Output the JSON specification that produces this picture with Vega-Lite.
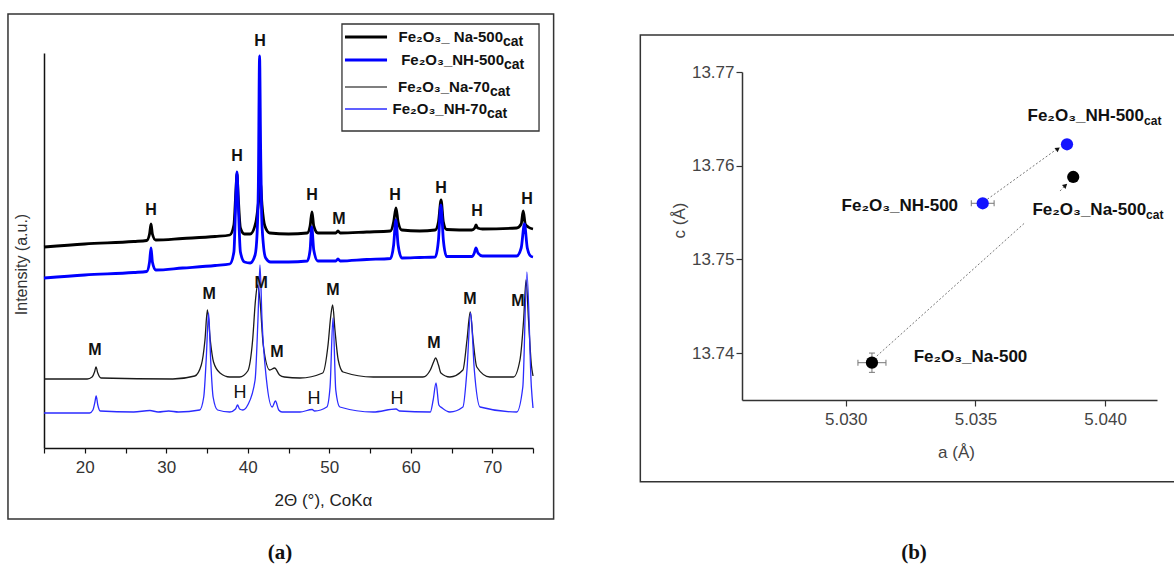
{
  "$schema": "https://vega.github.io/schema/vega-lite/v6.json",
  "width": 1174,
  "height": 565,
  "autosize": "none",
  "padding": 0,
  "background": "white",
  "config": {
    "view": {"stroke": null},
    "text": {"font": "Liberation Sans, DejaVu Sans, sans-serif"},
    "axis": {"labelFont": "Liberation Sans, DejaVu Sans, sans-serif", "titleFont": "Liberation Sans, DejaVu Sans, sans-serif", "grid": false}
  },
  "datasets": {
    "xrd": [
      {"s":"A","t":15.0,"I":201},{"s":"A","t":20.0,"I":204},{"s":"A","t":26.0,"I":206.5},{"s":"A","t":27.6,"I":207.5},{"s":"A","t":27.95,"I":214},{"s":"A","t":28.13,"I":224},{"s":"A","t":28.3,"I":214},{"s":"A","t":28.7,"I":208},{"s":"A","t":32.0,"I":209.5},{"s":"A","t":36.0,"I":211.5},{"s":"A","t":37.8,"I":213},{"s":"A","t":38.3,"I":223},{"s":"A","t":38.55,"I":258},{"s":"A","t":38.68,"I":274},{"s":"A","t":38.82,"I":253},{"s":"A","t":39.1,"I":220},{"s":"A","t":39.6,"I":214},{"s":"A","t":40.3,"I":214},{"s":"A","t":41.0,"I":226},{"s":"A","t":41.35,"I":248},{"s":"A","t":41.55,"I":265},{"s":"A","t":41.75,"I":243},{"s":"A","t":42.1,"I":222},{"s":"A","t":42.7,"I":215},{"s":"A","t":45.0,"I":214},{"s":"A","t":47.3,"I":215},{"s":"A","t":47.65,"I":222},{"s":"A","t":47.88,"I":236},{"s":"A","t":48.1,"I":222},{"s":"A","t":48.6,"I":215},{"s":"A","t":50.8,"I":215},{"s":"A","t":51.07,"I":217},{"s":"A","t":51.35,"I":215},{"s":"A","t":54.6,"I":216},{"s":"A","t":57.5,"I":217},{"s":"A","t":57.9,"I":226},{"s":"A","t":58.19,"I":240},{"s":"A","t":58.45,"I":226},{"s":"A","t":58.9,"I":218},{"s":"A","t":61.1,"I":217},{"s":"A","t":63.0,"I":218},{"s":"A","t":63.4,"I":226},{"s":"A","t":63.72,"I":248},{"s":"A","t":64.0,"I":226},{"s":"A","t":64.4,"I":218.5},{"s":"A","t":67.5,"I":218},{"s":"A","t":67.85,"I":220},{"s":"A","t":68.0,"I":223},{"s":"A","t":68.2,"I":220},{"s":"A","t":68.8,"I":219},{"s":"A","t":73.0,"I":220},{"s":"A","t":73.55,"I":224},{"s":"A","t":73.8,"I":237},{"s":"A","t":74.05,"I":224},{"s":"A","t":74.4,"I":221},{"s":"A","t":75.0,"I":219},
      {"s":"B","t":15.0,"I":170},{"s":"B","t":20.0,"I":173},{"s":"B","t":26.0,"I":175.5},{"s":"B","t":27.6,"I":176.5},{"s":"B","t":27.95,"I":186},{"s":"B","t":28.13,"I":200},{"s":"B","t":28.3,"I":186},{"s":"B","t":28.7,"I":178},{"s":"B","t":32.0,"I":180},{"s":"B","t":36.0,"I":182.5},{"s":"B","t":37.8,"I":184},{"s":"B","t":38.3,"I":196},{"s":"B","t":38.55,"I":253},{"s":"B","t":38.68,"I":276},{"s":"B","t":38.82,"I":248},{"s":"B","t":39.1,"I":196},{"s":"B","t":39.6,"I":186},{"s":"B","t":40.3,"I":185},{"s":"B","t":40.9,"I":193},{"s":"B","t":41.15,"I":215},{"s":"B","t":41.3,"I":262},{"s":"B","t":41.45,"I":392},{"s":"B","t":41.58,"I":300},{"s":"B","t":41.7,"I":235},{"s":"B","t":41.9,"I":205},{"s":"B","t":42.2,"I":190},{"s":"B","t":42.8,"I":186},{"s":"B","t":45.0,"I":186},{"s":"B","t":47.3,"I":187},{"s":"B","t":47.65,"I":198},{"s":"B","t":47.85,"I":221},{"s":"B","t":48.1,"I":198},{"s":"B","t":48.6,"I":187},{"s":"B","t":50.8,"I":187},{"s":"B","t":51.07,"I":189},{"s":"B","t":51.35,"I":187},{"s":"B","t":54.6,"I":188.5},{"s":"B","t":57.5,"I":189.5},{"s":"B","t":57.9,"I":203},{"s":"B","t":58.17,"I":228},{"s":"B","t":58.45,"I":203},{"s":"B","t":58.9,"I":190},{"s":"B","t":61.1,"I":190.5},{"s":"B","t":63.0,"I":191},{"s":"B","t":63.4,"I":208},{"s":"B","t":63.7,"I":243},{"s":"B","t":64.0,"I":208},{"s":"B","t":64.4,"I":191.5},{"s":"B","t":67.5,"I":191.5},{"s":"B","t":67.8,"I":195},{"s":"B","t":68.0,"I":200},{"s":"B","t":68.25,"I":195},{"s":"B","t":68.8,"I":192},{"s":"B","t":73.0,"I":192},{"s":"B","t":73.55,"I":200},{"s":"B","t":73.95,"I":224},{"s":"B","t":74.3,"I":200},{"s":"B","t":74.7,"I":192},{"s":"B","t":75.0,"I":191},
      {"s":"C","t":15.0,"I":69},{"s":"C","t":20.3,"I":69},{"s":"C","t":20.9,"I":71},{"s":"C","t":21.2,"I":76},{"s":"C","t":21.38,"I":81},{"s":"C","t":21.6,"I":75},{"s":"C","t":22.0,"I":70},{"s":"C","t":30.8,"I":69},{"s":"C","t":33.5,"I":72},{"s":"C","t":34.3,"I":83},{"s":"C","t":34.75,"I":108},{"s":"C","t":35.05,"I":138},{"s":"C","t":35.4,"I":108},{"s":"C","t":35.8,"I":86},{"s":"C","t":36.6,"I":75},{"s":"C","t":37.8,"I":71},{"s":"C","t":39.0,"I":71},{"s":"C","t":40.0,"I":77},{"s":"C","t":40.6,"I":108},{"s":"C","t":40.95,"I":148},{"s":"C","t":41.2,"I":163},{"s":"C","t":41.5,"I":148},{"s":"C","t":41.9,"I":103},{"s":"C","t":42.7,"I":78},{"s":"C","t":43.3,"I":80},{"s":"C","t":43.9,"I":73},{"s":"C","t":44.5,"I":71},{"s":"C","t":46.4,"I":70},{"s":"C","t":49.2,"I":75},{"s":"C","t":49.85,"I":103},{"s":"C","t":50.2,"I":133},{"s":"C","t":50.42,"I":143},{"s":"C","t":50.7,"I":118},{"s":"C","t":51.1,"I":88},{"s":"C","t":51.7,"I":76},{"s":"C","t":55.4,"I":71},{"s":"C","t":61.5,"I":71},{"s":"C","t":62.4,"I":78},{"s":"C","t":62.8,"I":86},{"s":"C","t":63.05,"I":90},{"s":"C","t":63.4,"I":83},{"s":"C","t":63.7,"I":75},{"s":"C","t":64.8,"I":71},{"s":"C","t":66.4,"I":78},{"s":"C","t":66.9,"I":108},{"s":"C","t":67.3,"I":136},{"s":"C","t":67.65,"I":108},{"s":"C","t":68.1,"I":81},{"s":"C","t":69.7,"I":71},{"s":"C","t":72.6,"I":71},{"s":"C","t":73.4,"I":88},{"s":"C","t":73.85,"I":128},{"s":"C","t":74.15,"I":168},{"s":"C","t":74.45,"I":128},{"s":"C","t":74.8,"I":83},{"s":"C","t":75.0,"I":72},
      {"s":"D","t":15.0,"I":35},{"s":"D","t":20.6,"I":35},{"s":"D","t":21.0,"I":38},{"s":"D","t":21.25,"I":46},{"s":"D","t":21.4,"I":52},{"s":"D","t":21.6,"I":43},{"s":"D","t":21.9,"I":37},{"s":"D","t":26.0,"I":36},{"s":"D","t":28.0,"I":37.5},{"s":"D","t":29.0,"I":36},{"s":"D","t":30.3,"I":37},{"s":"D","t":31.5,"I":36},{"s":"D","t":34.1,"I":38},{"s":"D","t":34.6,"I":51},{"s":"D","t":34.9,"I":88},{"s":"D","t":35.2,"I":135},{"s":"D","t":35.45,"I":88},{"s":"D","t":35.75,"I":51},{"s":"D","t":36.3,"I":38},{"s":"D","t":37.8,"I":36},{"s":"D","t":38.5,"I":39},{"s":"D","t":38.75,"I":43},{"s":"D","t":39.0,"I":39},{"s":"D","t":39.4,"I":38},{"s":"D","t":40.0,"I":43},{"s":"D","t":40.9,"I":68},{"s":"D","t":41.25,"I":128},{"s":"D","t":41.5,"I":183},{"s":"D","t":41.75,"I":128},{"s":"D","t":42.3,"I":68},{"s":"D","t":43.0,"I":41},{"s":"D","t":43.4,"I":47},{"s":"D","t":43.8,"I":38},{"s":"D","t":44.2,"I":36},{"s":"D","t":46.4,"I":36},{"s":"D","t":47.9,"I":38.5},{"s":"D","t":48.2,"I":37},{"s":"D","t":49.7,"I":41},{"s":"D","t":50.1,"I":61},{"s":"D","t":50.46,"I":130},{"s":"D","t":50.8,"I":58},{"s":"D","t":51.3,"I":41},{"s":"D","t":55.4,"I":36},{"s":"D","t":58.2,"I":39},{"s":"D","t":58.6,"I":37},{"s":"D","t":62.4,"I":36},{"s":"D","t":62.75,"I":48},{"s":"D","t":63.1,"I":65},{"s":"D","t":63.45,"I":43},{"s":"D","t":63.85,"I":40},{"s":"D","t":64.8,"I":36},{"s":"D","t":66.4,"I":41},{"s":"D","t":66.9,"I":78},{"s":"D","t":67.35,"I":135},{"s":"D","t":67.8,"I":78},{"s":"D","t":68.5,"I":41},{"s":"D","t":73.0,"I":36},{"s":"D","t":73.75,"I":61},{"s":"D","t":74.25,"I":176},{"s":"D","t":74.8,"I":61},{"s":"D","t":75.0,"I":40}
    ],
    "peaks": [
      {"t":28.13,"I":238,"txt":"H","grp":"main"},{"t":38.68,"I":292,"txt":"H","grp":"main"},{"t":41.5,"I":407,"txt":"H","grp":"main"},{"t":47.88,"I":253,"txt":"H","grp":"main"},{"t":51.2,"I":229,"txt":"M","grp":"main"},{"t":58.07,"I":253,"txt":"H","grp":"main"},{"t":63.71,"I":260,"txt":"H","grp":"main"},{"t":68.13,"I":237,"txt":"H","grp":"main"},{"t":74.26,"I":249,"txt":"H","grp":"main"},
      {"t":21.26,"I":98,"txt":"M","grp":"main"},{"t":35.25,"I":154,"txt":"M","grp":"main"},{"t":41.63,"I":165,"txt":"M","grp":"main"},{"t":43.59,"I":96,"txt":"M","grp":"main"},{"t":50.46,"I":158,"txt":"M","grp":"main"},{"t":62.85,"I":105,"txt":"M","grp":"main"},{"t":67.27,"I":149,"txt":"M","grp":"main"},{"t":73.16,"I":147,"txt":"M","grp":"main"},
      {"t":39.05,"I":55,"txt":"H","grp":"minor"},{"t":48.13,"I":49,"txt":"H","grp":"minor"},{"t":58.31,"I":49,"txt":"H","grp":"minor"}
    ],
    "legendA": [
      {"s":"A","t1":51.93,"t2":57.09,"I":411,"ta":71.32,"main":"Fe₂O₃_ Na-500","sub":"cat"},
      {"s":"B","t1":51.93,"t2":57.09,"I":388,"ta":71.44,"main":"Fe₂O₃_NH-500","sub":"cat"},
      {"s":"C","t1":51.93,"t2":57.09,"I":361,"ta":69.72,"main":"Fe₂O₃_Na-70","sub":"cat"},
      {"s":"D","t1":51.93,"t2":57.09,"I":339,"ta":69.36,"main":"Fe₂O₃_NH-70","sub":"cat"}
    ],
    "pts": [
      {"name":"Na-500","g":"Na","a":5.03101,"c":13.73898},
      {"name":"NH-500","g":"NH","a":5.03528,"c":13.75599},
      {"name":"NH-500cat","g":"NH","a":5.03853,"c":13.76229},
      {"name":"Na-500cat","g":"Na","a":5.03877,"c":13.7588}
    ],
    "errH": [
      {"a":5.03047,"a2":5.03155,"c":13.73898},
      {"a":5.03484,"a2":5.03572,"c":13.75599}
    ],
    "errV": [
      {"a":5.03101,"c":13.73795,"c2":13.74001}
    ],
    "capsV": [
      {"a":5.03047,"c":13.73898},{"a":5.03155,"c":13.73898},{"a":5.03484,"c":13.75599},{"a":5.03572,"c":13.75599}
    ],
    "capsH": [
      {"a":5.03101,"c":13.73795},{"a":5.03101,"c":13.74001}
    ],
    "dots": [
      {"a":5.03546,"c":13.75642,"a2":5.03820,"c2":13.76190},
      {"a":5.0312,"c":13.7397,"a2":5.0369,"c2":13.7539},
      {"a":5.03826,"c":13.7573,"a2":5.0385,"c2":13.758}
    ],
    "labelsB": [
      {"a":5.0415,"c":13.7653,"main":"Fe₂O₃_NH-500","sub":"cat"},
      {"a":5.03433,"c":13.7557,"main":"Fe₂O₃_NH-500","sub":""},
      {"a":5.04158,"c":13.7553,"main":"Fe₂O₃_Na-500","sub":"cat"},
      {"a":5.0370,"c":13.7396,"main":"Fe₂O₃_Na-500","sub":""}
    ]
  },
  "layer": [
    {
      "encoding": {
        "x": {"field": "t", "type": "quantitative",
          "scale": {"domain": [15, 75], "range": [44, 533], "nice": false, "zero": false},
          "axis": {"orient": "bottom", "offset": -117, "values": [15,20,25,30,35,40,45,50,55,60,65,70,75],
            "labelExpr": "datum.value % 10 === 0 ? datum.label : ''", "format": "d",
            "tickSize": 5, "tickColor": "#111", "tickWidth": 1.2, "domainColor": "#111", "domainWidth": 1.5,
            "labelFontSize": 17, "labelColor": "#333", "labelPadding": 6, "labelFlush": false,
            "title": "2Θ (°), CoKα", "titleFontSize": 17, "titleFontWeight": "normal", "titleColor": "#222",
            "titleX": 323, "titleY": 52, "titleBaseline": "middle", "titleAlign": "center"}},
        "y": {"field": "I", "type": "quantitative",
          "scale": {"domain": [0, 395], "range": [448, 53], "nice": false, "zero": false},
          "axis": {"orient": "left", "offset": -44, "ticks": false, "labels": false,
            "domainColor": "#111", "domainWidth": 1.5,
            "title": "Intensity (a.u.)", "titleFontSize": 16, "titleFontWeight": "normal", "titleColor": "#333",
            "titleX": -23, "titleY": 264, "titleBaseline": "middle", "titleAlign": "center"}}
      },
      "layer": [
        {
          "data": {"values": [{"t": 10.58, "t2": 77.53, "I": 434, "I2": -71}]},
          "mark": {"type": "rect", "fill": null, "fillOpacity": 0, "stroke": "#333", "strokeWidth": 1.5},
          "encoding": {"x2": {"field": "t2"}, "y2": {"field": "I2"}}
        },
        {
          "data": {"name": "xrd"},
          "transform": [{"filter": "datum.s === 'A'"}],
          "mark": {"type": "line", "color": "#000000", "strokeWidth": 2.8, "interpolate": "monotone"}
        },
        {
          "data": {"name": "xrd"},
          "transform": [{"filter": "datum.s === 'B'"}],
          "mark": {"type": "line", "color": "#0000ff", "strokeWidth": 2.8, "interpolate": "monotone"}
        },
        {
          "data": {"name": "xrd"},
          "transform": [{"filter": "datum.s === 'C'"}],
          "mark": {"type": "line", "color": "#1a1a1a", "strokeWidth": 1.3, "interpolate": "monotone"}
        },
        {
          "data": {"name": "xrd"},
          "transform": [{"filter": "datum.s === 'D'"}],
          "mark": {"type": "line", "color": "#2b2bff", "strokeWidth": 1.3, "interpolate": "monotone"}
        },
        {
          "data": {"name": "peaks"},
          "transform": [{"filter": "datum.grp === 'main'"}],
          "mark": {"type": "text", "fontSize": 16, "fontWeight": "bold", "color": "#111", "baseline": "middle", "align": "center"},
          "encoding": {"text": {"field": "txt"}}
        },
        {
          "data": {"name": "peaks"},
          "transform": [{"filter": "datum.grp === 'minor'"}],
          "mark": {"type": "text", "fontSize": 18, "fontWeight": "normal", "color": "#111", "baseline": "middle", "align": "center"},
          "encoding": {"text": {"field": "txt"}}
        },
        {
          "data": {"values": [{"t": 51.56, "t2": 75.74, "I": 424, "I2": 317}]},
          "mark": {"type": "rect", "fill": "white", "stroke": "#333", "strokeWidth": 1.3},
          "encoding": {"x2": {"field": "t2"}, "y2": {"field": "I2"}}
        },
        {
          "data": {"name": "legendA"},
          "transform": [{"filter": "datum.s === 'A' || datum.s === 'B'"}],
          "mark": {"type": "rule", "strokeWidth": 2.8},
          "encoding": {
            "x": {"field": "t1", "type": "quantitative"},
            "x2": {"field": "t2"},
            "color": {"field": "s", "type": "nominal", "scale": {"domain": ["A","B","C","D"], "range": ["#000000","#0000ff","#555555","#2b2bff"]}, "legend": null}
          }
        },
        {
          "data": {"name": "legendA"},
          "transform": [{"filter": "datum.s === 'C' || datum.s === 'D'"}],
          "mark": {"type": "rule", "strokeWidth": 1.3},
          "encoding": {
            "x": {"field": "t1", "type": "quantitative"},
            "x2": {"field": "t2"},
            "color": {"field": "s", "type": "nominal", "scale": {"domain": ["A","B","C","D"], "range": ["#000000","#0000ff","#555555","#2b2bff"]}, "legend": null}
          }
        },
        {
          "data": {"name": "legendA"},
          "mark": {"type": "text", "fontSize": 15, "fontWeight": "bold", "color": "#111", "align": "right", "baseline": "middle"},
          "encoding": {"x": {"field": "ta", "type": "quantitative"}, "text": {"field": "main"}}
        },
        {
          "data": {"name": "legendA"},
          "mark": {"type": "text", "fontSize": 14, "fontWeight": "bold", "color": "#111", "align": "left", "baseline": "middle", "dy": 5},
          "encoding": {"x": {"field": "ta", "type": "quantitative"}, "text": {"field": "sub"}}
        },
        {
          "data": {"values": [{"t": 43.96, "I": -105, "txt": "(a)"}]},
          "mark": {"type": "text", "font": "Liberation Serif, DejaVu Serif, serif", "fontSize": 21, "fontWeight": "bold", "color": "#111", "align": "center", "baseline": "middle"},
          "encoding": {"text": {"field": "txt"}}
        }
      ]
    },
    {
      "encoding": {
        "x": {"field": "a", "type": "quantitative",
          "scale": {"domain": [5.026, 5.042], "range": [742, 1157], "nice": false, "zero": false},
          "axis": {"orient": "bottom", "offset": -165, "values": [5.03, 5.035, 5.04], "format": ".3f",
            "tickSize": 6, "tickColor": "#333", "tickWidth": 1.2, "domainColor": "#333", "domainWidth": 1.5,
            "labelFontSize": 17, "labelColor": "#444", "labelPadding": 5, "labelFlush": false,
            "title": "a (Å)", "titleFontSize": 17, "titleFontWeight": "normal", "titleColor": "#444",
            "titleX": 956, "titleY": 52, "titleBaseline": "middle", "titleAlign": "center"}},
        "y": {"field": "c", "type": "quantitative",
          "scale": {"domain": [13.735, 13.77], "range": [400, 72], "nice": false, "zero": false},
          "axis": {"orient": "left", "offset": -742, "values": [13.74, 13.75, 13.76, 13.77], "format": ".2f",
            "tickSize": 6, "tickColor": "#333", "tickWidth": 1.2, "domainColor": "#333", "domainWidth": 1.5,
            "labelFontSize": 17, "labelColor": "#444", "labelPadding": 2, "labelFlush": false,
            "title": "c (Å)", "titleFontSize": 17, "titleFontWeight": "normal", "titleColor": "#444",
            "titleX": -63, "titleY": 220, "titleBaseline": "middle", "titleAlign": "center"}}
      },
      "layer": [
        {
          "data": {"values": [{"a": 5.02208, "a2": 5.04289, "c": 13.77395, "c2": 13.72628}]},
          "mark": {"type": "rect", "fill": null, "fillOpacity": 0, "stroke": "#333", "strokeWidth": 1.5},
          "encoding": {"x2": {"field": "a2"}, "y2": {"field": "c2"}}
        },
        {
          "data": {"values": [{"a": 5.0275}, {"a": 5.0325}, {"a": 5.0375}]},
          "mark": {"type": "rule", "color": "#333", "strokeWidth": 1.2},
          "encoding": {"y": {"datum": 13.735}, "y2": {"datum": 13.73457}}
        },
        {
          "data": {"values": [{"c": 13.745}, {"c": 13.755}, {"c": 13.765}]},
          "mark": {"type": "rule", "color": "#333", "strokeWidth": 1.2},
          "encoding": {"x": {"datum": 5.026}, "x2": {"datum": 5.025846}}
        },
        {
          "data": {"name": "dots"},
          "mark": {"type": "rule", "color": "#777", "strokeWidth": 1, "strokeDash": [2, 2]},
          "encoding": {"x2": {"field": "a2"}, "y2": {"field": "c2"}}
        },
        {
          "data": {"values": [{"a": 5.03818, "c": 13.76180}]},
          "mark": {"type": "point", "shape": "triangle-up", "filled": true, "color": "#111", "size": 28, "angle": 54, "opacity": 1}
        },
        {
          "data": {"values": [{"a": 5.03847, "c": 13.75790}]},
          "mark": {"type": "point", "shape": "triangle-up", "filled": true, "color": "#111", "size": 28, "angle": 48, "opacity": 1}
        },
        {
          "data": {"name": "errH"},
          "mark": {"type": "rule", "color": "#777", "strokeWidth": 1},
          "encoding": {"x2": {"field": "a2"}}
        },
        {
          "data": {"name": "errV"},
          "mark": {"type": "rule", "color": "#777", "strokeWidth": 1},
          "encoding": {"y2": {"field": "c2"}}
        },
        {
          "data": {"name": "capsV"},
          "mark": {"type": "tick", "orient": "vertical", "color": "#777", "thickness": 1, "size": 6, "opacity": 1}
        },
        {
          "data": {"name": "capsH"},
          "mark": {"type": "tick", "orient": "horizontal", "color": "#777", "thickness": 1, "size": 6, "opacity": 1}
        },
        {
          "data": {"name": "pts"},
          "mark": {"type": "circle", "size": 150, "opacity": 1},
          "encoding": {
            "color": {"field": "g", "type": "nominal", "scale": {"domain": ["Na", "NH"], "range": ["#000000", "#1414ff"]}, "legend": null}
          }
        },
        {
          "data": {"name": "labelsB"},
          "mark": {"type": "text", "fontSize": 17, "fontWeight": "bold", "color": "#111", "align": "right", "baseline": "middle"},
          "encoding": {"text": {"field": "main"}}
        },
        {
          "data": {"name": "labelsB"},
          "transform": [{"filter": "datum.sub !== ''"}],
          "mark": {"type": "text", "fontSize": 12, "fontWeight": "bold", "color": "#111", "align": "left", "baseline": "middle", "dy": 5},
          "encoding": {"text": {"field": "sub"}}
        },
        {
          "data": {"values": [{"a": 5.03263, "c": 13.71867, "txt": "(b)"}]},
          "mark": {"type": "text", "font": "Liberation Serif, DejaVu Serif, serif", "fontSize": 21, "fontWeight": "bold", "color": "#111", "align": "center", "baseline": "middle"},
          "encoding": {"text": {"field": "txt"}}
        }
      ]
    }
  ],
  "resolve": {
    "scale": {"x": "independent", "y": "independent", "color": "independent"},
    "axis": {"x": "independent", "y": "independent"}
  }
}
